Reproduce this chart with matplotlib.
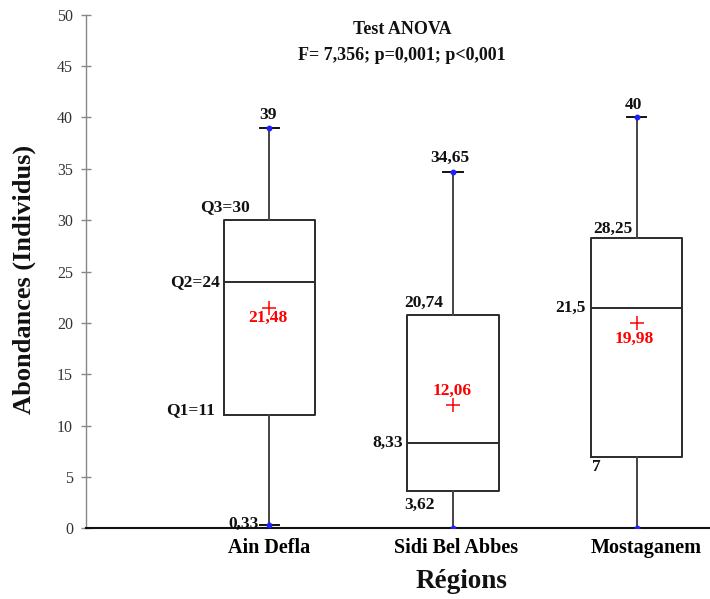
import matplotlib
matplotlib.use("Agg")
import matplotlib.pyplot as plt
from matplotlib.transforms import ScaledTranslation

plt.rcParams['font.family'] = ['Liberation Serif', 'DejaVu Serif']

# --- data -------------------------------------------------------------
regions = ["Ain Defla", "Sidi Bel Abbes", "Mostaganem"]
minimum = [0.33, 0.0, 0.0]
q1 = [11.0, 3.62, 7.0]
median = [24.0, 8.33, 21.5]
q3 = [30.0, 20.74, 28.25]
maximum = [39.0, 34.65, 40.0]
mean = [21.48, 12.06, 19.98]

# printed labels (as written on the chart)
lab_min = ["0,33", None, None]
lab_q1 = ["Q1=11", "3,62", "7"]
lab_med = ["Q2=24", "8,33", "21,5"]
lab_q3 = ["Q3=30", "20,74", "28,25"]
lab_max = ["39", "34,65", "40"]
lab_mean = ["21,48", "12,06", "19,98"]

title_lines = ["Test ANOVA", "F= 7,356; p=0,001; p<0,001"]

# --- figure -------------------------------------------------------------
DPI = 100
fig = plt.figure(figsize=(7.10, 5.99), dpi=DPI)
ax = fig.add_axes([0.121, 0.1177, 0.879, 0.8578])

positions = [1, 2, 3]
box_w = 0.5

stats = []
for i in range(3):
    stats.append(dict(med=median[i], q1=q1[i], q3=q3[i],
                      whislo=minimum[i], whishi=maximum[i],
                      mean=mean[i], fliers=[], label=regions[i]))

ax.bxp(stats, positions=positions, widths=box_w, showmeans=True,
       showfliers=False, capwidths=0.105,
       boxprops=dict(color="#2b2b2b", linewidth=1.4),
       medianprops=dict(color="#2b2b2b", linewidth=1.4),
       whiskerprops=dict(color="#444444", linewidth=1.4),
       capprops=dict(color="#111111", linewidth=1.4),
       meanprops=dict(marker="+", markersize=10, markeredgecolor="red",
                      markeredgewidth=1.1, markerfacecolor="red"))

# whisker end points
for i, p in enumerate(positions):
    ax.plot([p, p], [minimum[i], maximum[i]], linestyle="none", marker="o",
            markersize=3.2, color="#1f1fff", zorder=5)

ax.set_xlim(0.0, 3.4)
ax.set_ylim(0, 50)
ax.set_yticks(range(0, 51, 5))
ax.set_xticks(positions)
ax.set_xticklabels(regions, fontsize=14.5, fontweight="bold")
ax.tick_params(axis="x", length=0, pad=7)
ax.tick_params(axis="y", direction="inout", length=6.5, width=1,
               color="#888888", labelcolor="#333333", labelsize=11.5, pad=6)

# small horizontal shifts of category labels
shifts_px = [0, 3, 10]
for lbl, s in zip(ax.get_xticklabels(), shifts_px):
    lbl.set_transform(lbl.get_transform() +
                      ScaledTranslation(s / DPI, 0, fig.dpi_scale_trans))

for side in ("top", "right"):
    ax.spines[side].set_visible(False)
ax.spines["left"].set_color("#888888")
ax.spines["left"].set_linewidth(1.0)
ax.spines["bottom"].set_color("#111111")
ax.spines["bottom"].set_linewidth(1.5)

PX = 72.0 / DPI  # points per pixel


def lab(text, x, y, dx, dy, ha="center", va="center", color="#111111"):
    if text is None:
        return
    ax.annotate(text, xy=(x, y), xytext=(dx * PX, dy * PX),
                textcoords="offset points", ha=ha, va=va, fontsize=12.5,
                fontweight="bold", color=color, annotation_clip=False)


hw = box_w / 2
# Ain Defla
lab(lab_max[0], 1, maximum[0], -1, 12.6)
lab(lab_q3[0], 1 - hw, q3[0], 1, 13)
lab(lab_med[0], 1 - hw, median[0], -4, 0, ha="right")
lab(lab_mean[0], 1, mean[0], -2, -10, color="red")
lab(lab_q1[0], 1 - hw, q1[0], -9, 5, ha="right")
lab(lab_min[0], 1, minimum[0], -11, 1, ha="right")
# Sidi Bel Abbes
lab(lab_max[1], 2, maximum[1], -3, 15)
lab(lab_q3[1], 2 - hw, q3[1], -3, 12, ha="left")
lab(lab_mean[1], 2, mean[1], -1, 13.5, color="red")
lab(lab_med[1], 2 - hw, median[1], -4, 0, ha="right")
lab(lab_q1[1], 2 - hw, q1[1], -3, -14, ha="left")
# Mostaganem
lab(lab_max[2], 3, maximum[2], -3, 12)
lab(lab_q3[2], 3 - hw, q3[2], 3, 9, ha="left")
lab(lab_med[2], 3 - hw, median[2], -5, 0, ha="right")
lab(lab_mean[2], 3, mean[2], -2, -16, color="red")
lab(lab_q1[2], 3 - hw, q1[2], 1, -10.5, ha="left")

# axis titles
fig.text(24 / 710, 1 - 279 / 599, "Abondances (Individus)", rotation=90,
         ha="center", va="center", fontsize=19, fontweight="bold",
         color="#111111")
fig.text(461 / 710, 1 - 582 / 599, "Régions", ha="center", va="center",
         fontsize=19.5, fontweight="bold", color="#111111")

# test annotation
fig.text(402 / 710, 1 - 30 / 599, title_lines[0], ha="center", va="center",
         fontsize=13, fontweight="bold", color="#111111")
fig.text(402 / 710, 1 - 55 / 599, title_lines[1], ha="center", va="center",
         fontsize=13, fontweight="bold", color="#111111")

fig.savefig("out.png", dpi=DPI)
